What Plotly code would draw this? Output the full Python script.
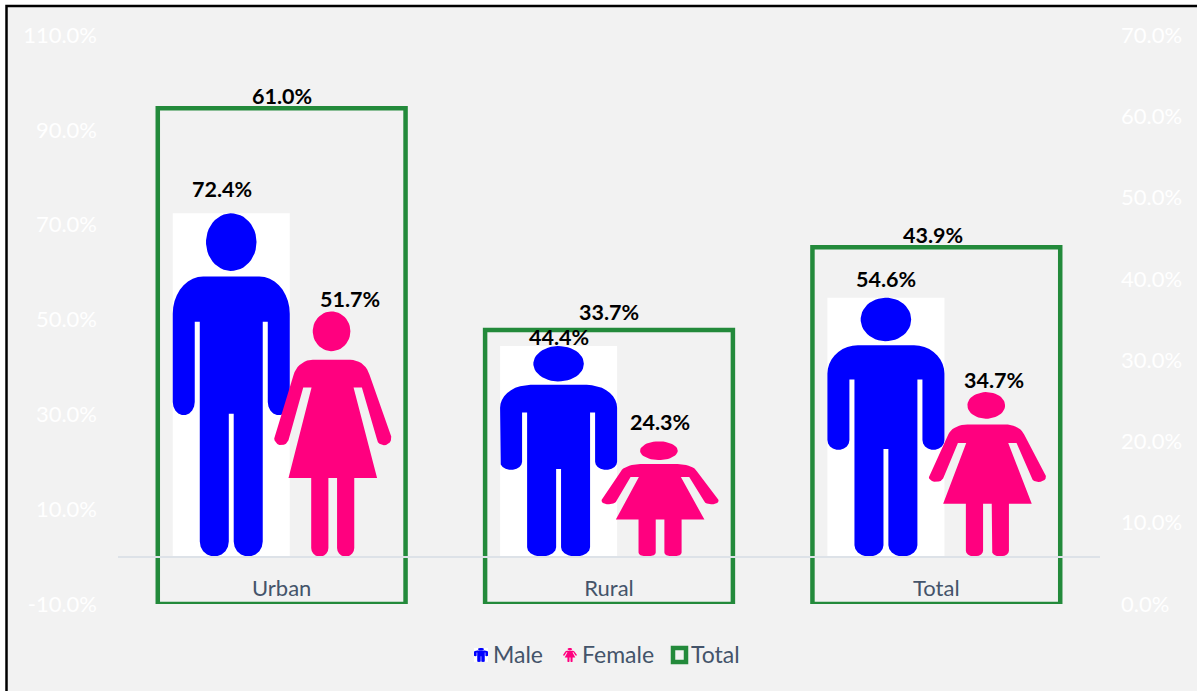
import numpy as np
import plotly.graph_objects as go

categories = ["Urban", "Rural", "Total"]
male = [72.4, 44.4, 54.6]
female = [51.7, 24.3, 34.7]
total = [61.0, 33.7, 43.9]
left_ticks = [-10, 10, 30, 50, 70, 90, 110]
right_ticks = [0, 10, 20, 30, 40, 50, 60, 70]

# Layout constants (pixels in a 1197x691 page)
W, H = 1197, 691
PL, PR, PT, PB = 118, 1100, 34.5, 604
FONT = "Lato"
SLATE = "#44546a"
BLUE = "#0000ff"
PINK = "#ff007f"
GREEN = "#238a3b"
BG = "#f2f2f2"
BAR_W = 0.3575
TOTAL_W = 0.757
M_OFF, F_OFF = -0.154, 0.156
label_shift_male = [(-9.5, 24.5), (0, 9), (0, 19)]
label_shift_female = [(17, 12), (0, 19), (7, 12.5)]
label_shift_total = [(0, 12), (0, 18), (-3, 12)]


def ell(cx, cy, rx, ry, n=48):
    t = np.linspace(0, 2 * np.pi, n)
    return [(cx + rx * np.cos(a), cy + ry * np.sin(a)) for a in t]


def arc(cx, cy, rx, ry, a0, a1, n=10):
    t = np.radians(np.linspace(a0, a1, n))
    return [(cx + rx * np.cos(a), cy + ry * np.sin(a)) for a in t]


# Silhouettes in a unit box: u across the bar, v up its height
MAN = [
    ell(0.5, 0.916, 0.216, 0.084),
    arc(0.26, 0.707, 0.26, 0.109, 90, 180)
    + arc(0.094, 0.45, 0.094, 0.038, 180, 360)
    + [(0.188, 0.684), (0.231, 0.684)]
    + arc(0.355, 0.044, 0.124, 0.044, 180, 360)
    + [(0.479, 0.416), (0.521, 0.416)]
    + arc(0.645, 0.044, 0.124, 0.044, 180, 360)
    + [(0.769, 0.684), (0.812, 0.684)]
    + arc(0.906, 0.45, 0.094, 0.038, 180, 360)
    + arc(0.74, 0.707, 0.26, 0.109, 0, 90),
]
WOMAN = [
    ell(0.49, 0.919, 0.161, 0.081),
    [(0.33, 0.803)]
    + arc(0.33, 0.72, 0.17, 0.083, 90, 165)
    + [(0.0, 0.49)]
    + arc(0.062, 0.482, 0.062, 0.028, 180, 345)
    + [(0.248, 0.69), (0.319, 0.69), (0.122, 0.321), (0.316, 0.321)]
    + arc(0.3895, 0.035, 0.0735, 0.035, 180, 360)
    + [(0.463, 0.321), (0.537, 0.321)]
    + arc(0.6105, 0.035, 0.0735, 0.035, 180, 360)
    + [(0.684, 0.321), (0.879, 0.321), (0.678, 0.69), (0.749, 0.69), (0.876, 0.482)]
    + arc(0.938, 0.482, 0.062, 0.028, 195, 360)
    + [(1.0, 0.49)]
    + arc(0.65, 0.72, 0.17, 0.083, 15, 90),
]


def outline(parts, x0, width, y0, height):
    xs, ys = [], []
    for part in parts:
        for u, v in part:
            xs.append(x0 + u * width)
            ys.append(y0 + v * height)
        xs.append(xs[-len(part)])
        ys.append(ys[-len(part)])
        xs.append(None)
        ys.append(None)
    return xs, ys


def people(parts, values, offset):
    xs, ys = [], []
    for i, v in enumerate(values):
        a, b = outline(parts, i + offset - BAR_W / 2, BAR_W, 0, v)
        xs += a
        ys += b
    return xs, ys


def px(x):
    return (x - PL) / (PR - PL)


def py(y):
    return (PB - y) / (PB - PT)


idx = list(range(len(categories)))
fig = go.Figure()
fig.add_trace(go.Bar(
    x=[i + M_OFF for i in idx], y=male, width=BAR_W, name="Male",
    marker=dict(color="#ffffff", line=dict(width=0)), showlegend=False,
))
mx, my = people(MAN, male, M_OFF)
fig.add_trace(go.Scatter(
    x=mx, y=my, mode="lines", fill="toself", fillcolor=BLUE, name="Male",
    line=dict(width=0, color=BLUE), showlegend=False, hoverinfo="skip",
))
fx, fy = people(WOMAN, female, F_OFF)
fig.add_trace(go.Scatter(
    x=fx, y=fy, mode="lines", fill="toself", fillcolor=PINK, name="Female",
    line=dict(width=0, color=PINK), showlegend=False, hoverinfo="skip",
))
fig.add_trace(go.Bar(
    x=idx, y=total, width=TOTAL_W, name="Total", yaxis="y2", cliponaxis=False,
    marker=dict(color="rgba(0,0,0,0)", line=dict(color=GREEN, width=4.5)),
    showlegend=False,
))

annotations = []
LABEL = dict(family=FONT, size=21.5, color="#000000", weight="bold")


def add_labels(values, offset, shifts, yref):
    for i, v in enumerate(values):
        annotations.append(dict(
            x=i + offset, y=v, xref="x", yref=yref, text=f"<b>{v:.1f}%</b>",
            showarrow=False, xanchor="center", yanchor="middle",
            xshift=shifts[i][0], yshift=shifts[i][1], font=LABEL,
        ))


add_labels(male, M_OFF, label_shift_male, "y")
add_labels(female, F_OFF, label_shift_female, "y")
add_labels(total, 0, label_shift_total, "y2")

for name, x in (("Male", 494), ("Female", 582.5), ("Total", 692)):
    annotations.append(dict(
        x=px(x), y=py(654), xref="paper", yref="paper", text=name, showarrow=False,
        xanchor="left", yanchor="middle", xshift=-3,
        font=dict(family=FONT, size=23, color=SLATE),
    ))


def paper_path(parts, x0, x1, y0, y1):
    out = []
    for part in parts:
        pts = [(px(x0 + u * (x1 - x0)), py(y1 - v * (y1 - y0))) for u, v in part]
        out.append("M" + " L".join(f"{a:.5f},{b:.5f}" for a, b in pts) + " Z")
    return " ".join(out)


shapes = [
    dict(type="rect", xref="paper", yref="paper", layer="below",
         x0=px(6.5), x1=px(1400), y0=py(5.5), y1=py(900),
         fillcolor=BG, line=dict(color="#000000", width=2.5)),
    dict(type="rect", xref="paper", yref="paper", x0=px(474), x1=px(488), y0=py(648), y1=py(662),
         fillcolor="#ffffff", line=dict(width=0)),
    dict(type="path", xref="paper", yref="paper", path=paper_path(MAN, 474, 488, 648, 662),
         fillcolor=BLUE, line=dict(width=0)),
    dict(type="path", xref="paper", yref="paper", path=paper_path(WOMAN, 563, 577, 648, 662),
         fillcolor=PINK, line=dict(width=0)),
    dict(type="rect", xref="paper", yref="paper", x0=px(673), x1=px(686), y0=py(648), y1=py(662),
         fillcolor=BG, line=dict(color=GREEN, width=4.5)),
]

TICK_FONT = dict(family=FONT, size=22, color="#ffffff")
fig.update_layout(
    width=W, height=H, barmode="overlay", showlegend=False,
    margin=dict(l=PL, r=W - PR, t=PT, b=H - PB, autoexpand=False),
    paper_bgcolor="#ffffff", plot_bgcolor="rgba(0,0,0,0)",
    font=dict(family=FONT),
    annotations=annotations, shapes=shapes,
    xaxis=dict(
        range=[-0.5, 2.5], tickmode="array", tickvals=idx, ticktext=categories,
        anchor="free", position=10 / 120, showline=True, linecolor="#dde2e8", linewidth=1.5,
        showgrid=False, zeroline=False, ticks="", ticklabelstandoff=12,
        tickfont=dict(family=FONT, size=22, color=SLATE),
    ),
    yaxis=dict(
        range=[-10, 110], tickmode="array", tickvals=left_ticks,
        ticktext=[f"{t:.1f}%" for t in left_ticks],
        showgrid=False, zeroline=False, showline=False, ticks="",
        ticklabelstandoff=20, tickfont=TICK_FONT,
    ),
    yaxis2=dict(
        range=[0, 70], tickmode="array", tickvals=right_ticks,
        ticktext=[f"{t:.1f}%" for t in right_ticks],
        overlaying="y", side="right", showgrid=False, zeroline=False, showline=False,
        ticks="", ticklabelstandoff=20, tickfont=TICK_FONT,
    ),
)

fig.write_html(
    "out.html",
    config={"displayModeBar": False},
    post_script="document.body.style.margin='0';document.body.style.overflow='hidden';",
)
